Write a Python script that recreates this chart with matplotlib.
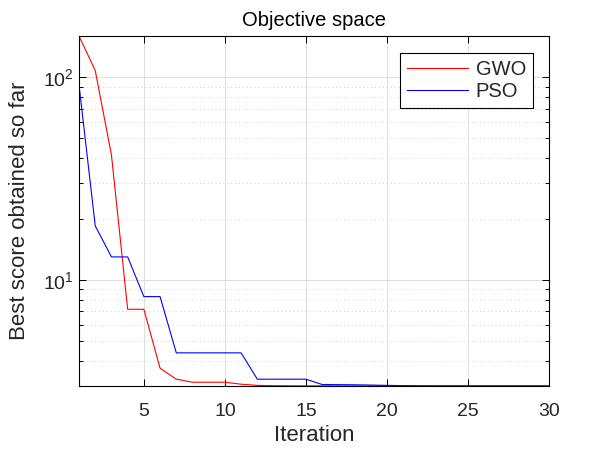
import numpy as np
import matplotlib
matplotlib.use('Agg')
from matplotlib import pyplot as plt
from matplotlib.ticker import LogLocator, NullFormatter

plt.rcParams['font.family'] = ['Liberation Sans', 'DejaVu Sans']

# valori
iterazioni = list(range(1, 31))
gwo = [160, 108, 41.4, 7.17, 7.17, 3.67, 3.24, 3.13, 3.13, 3.13,
       3.06, 3.02, 3.01, 3.006, 3.004, 3.003, 3.002, 3.002, 3.001, 3.001,
       3.0, 3.0, 3.0, 3.0, 3.0, 3.0, 3.0, 3.0, 3.0, 3.0]
pso = [91.6, 18.5, 13.0, 13.0, 8.28, 8.28, 4.37, 4.37, 4.37, 4.37,
       4.37, 3.24, 3.24, 3.24, 3.24, 3.05, 3.045, 3.04, 3.03, 3.02,
       3.01, 3.005, 3.003, 3.002, 3.001, 3.0, 3.0, 3.0, 3.0, 3.0]

testo = '#262626'

fig = plt.figure(figsize=(6.08, 4.53), dpi=100)
ax = fig.add_axes([0.130, 0.148, 0.773, 0.7725])

ax.semilogy(iterazioni, gwo, color='#ff0000', linewidth=0.8, label='GWO')
ax.semilogy(iterazioni, pso, color='#0000ff', linewidth=0.8, label='PSO')

ax.set_xlim(1, 30)
ax.set_ylim(min(gwo + pso), max(gwo + pso))
ax.set_xticks([5, 10, 15, 20, 25, 30])
ax.yaxis.set_major_locator(LogLocator(base=10))
ax.yaxis.set_minor_locator(LogLocator(base=10, subs=np.arange(2, 10)))
ax.yaxis.set_minor_formatter(NullFormatter())

ax.grid(True, which='major', color='#dedede', linewidth=0.7, linestyle='-')
ax.grid(True, which='minor', axis='y', color='#d0d0d0', linewidth=0.7, linestyle=(0, (1, 3)))
ax.tick_params(which='both', direction='in', top=True, right=True, labelsize=14,
               width=0.7, labelcolor=testo)
ax.tick_params(axis='x', which='major', pad=12)
ax.tick_params(which='major', length=5)
ax.tick_params(which='minor', length=3)
for s in ax.spines.values():
    s.set_linewidth(0.8)

ax.set_title('Objective space', fontsize=14.5, color='black', pad=7)
ax.set_xlabel('Iteration', fontsize=16, color=testo, labelpad=4)
ax.set_ylabel('Best score obtained so far', fontsize=16, color=testo, labelpad=10)

leg = ax.legend(loc='upper right', bbox_to_anchor=(0.966, 0.951), borderaxespad=0,
                fontsize=14.5, fancybox=False, edgecolor='black', framealpha=1,
                handlelength=3.0, handletextpad=0.4, borderpad=0.35, labelspacing=0.15)
leg.get_frame().set_linewidth(0.8)
for t in leg.get_texts():
    t.set_color(testo)

fig.savefig('out.png', dpi=100)
